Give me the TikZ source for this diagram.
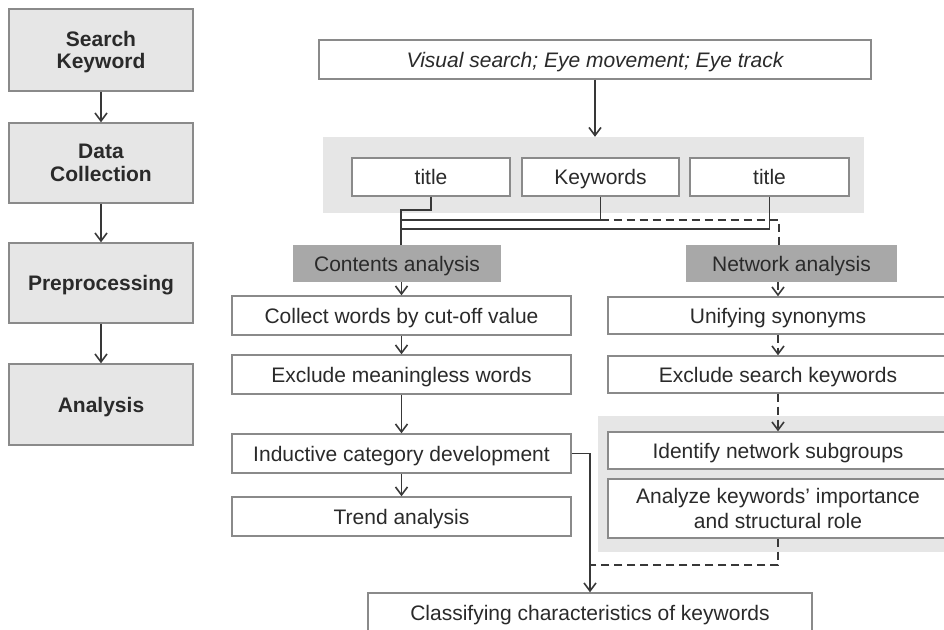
\documentclass[tikz,border=0pt]{standalone}
\usepackage{fontspec}
\setmainfont{Liberation Sans}
\usepackage{xcolor}
\usepackage{tikz}
\usetikzlibrary{arrows.meta,positioning,calc}
\definecolor{inkgray}{HTML}{2A2A2A}
\definecolor{linegray}{HTML}{383838}
\definecolor{bordgray}{HTML}{8A8A8A}
\definecolor{paleback}{HTML}{E6E6E6}
\definecolor{headgray}{HTML}{A8A8A8}

\begin{document}
\begin{tikzpicture}[x=1pt,y=-1pt,
 stage/.style={draw=bordgray,fill=paleback,line width=1.4pt,text=inkgray,align=center,font=\bfseries\fontsize{21}{22.5}\selectfont,minimum width=184pt,inner sep=0pt,text depth=0pt},
 box/.style={draw=bordgray,fill=white,line width=1.4pt,text=inkgray,align=center,font=\fontsize{21}{25}\selectfont,inner sep=0pt,text depth=0pt},
 head/.style={fill=headgray,text=inkgray,align=center,font=\fontsize{21}{25}\selectfont,inner sep=0pt,text depth=0pt,minimum height=37pt},
 panel/.style={fill=paleback,inner sep=0pt},
 link/.style={draw=linegray,line width=1.6pt},
 arr/.style={link,-{Straight Barb[length=8pt,width=12pt]}},
 dlink/.style={link,dash pattern=on 8pt off 5pt},
 darr/.style={dlink,-{Straight Barb[length=8pt,width=12pt]}}
]
\clip (0,0) rectangle (944,629);
\node[stage,minimum height=82pt] (sk) at (101,50) {Search\\Keyword};
\node[stage,minimum height=80pt] (dc) at (101,163) {Data\\Collection};
\node[stage,minimum height=80pt] (pp) at (101,283) {Preprocessing};
\node[stage,minimum height=81pt] (an) at (101,404.5) {Analysis};
\foreach \a/\b in {sk/dc,dc/pp,pp/an}
  \draw[arr] (\a) -- (\b);

\node[box,font=\itshape\fontsize{21}{25}\selectfont,minimum width=552pt,minimum height=39pt] (vs) at (595,59.5) {Visual search; Eye movement; Eye track};
\node[panel,minimum width=541pt,minimum height=76pt] (grp) at (593.5,175) {};
\node[box,minimum width=158pt,minimum height=38pt] (t1) at (431,177) {title};
\node[box,minimum width=157pt,minimum height=38pt] (kw) at (600.5,177) {Keywords};
\node[box,minimum width=159pt,minimum height=38pt] (t2) at (769.5,177) {title};
\draw[arr] (vs.south) -- (vs.south |- grp.north);

\node[head,minimum width=208pt] (ca) at (397,263.5) {Contents analysis};
\node[head,minimum width=211pt] (na) at (791.5,263.5) {Network analysis};

\coordinate (j1) at (401,210);
\coordinate (h1) at (401,220);
\coordinate (h2) at (401,229);
\coordinate (nd) at (779,220);
\draw[link] (t1.south) |- (j1) -- (j1 |- ca.north);
\draw[link] (kw.south) |- (h1);
\draw[link] (t2.south) |- (h2);
\draw[dlink] (kw.south |- h1) -- (nd) -- (nd |- na.north);

\node[box,minimum width=339pt,minimum height=39pt] (cw) at (401.5,315.5) {Collect words by cut-off value};
\node[box,minimum width=339pt,minimum height=39pt] (em) at (401.5,374.5) {Exclude meaningless words};
\node[box,minimum width=339pt,minimum height=39pt] (ic) at (401.5,453.5) {Inductive category development};
\node[box,minimum width=339pt,minimum height=39pt] (tr) at (401.5,516.5) {Trend analysis};
\draw[arr] (cw.north |- ca.south) -- (cw.north);
\foreach \a/\b in {cw/em,em/ic,ic/tr}
  \draw[arr] (\a) -- (\b);

\node[box,minimum width=340pt,minimum height=37pt] (us) at (778,315.5) {Unifying synonyms};
\node[box,minimum width=340pt,minimum height=37pt] (es) at (778,374.5) {Exclude search keywords};
\node[panel,minimum width=362pt,minimum height=136pt] (grp2) at (779,484) {};
\node[box,minimum width=340pt,minimum height=37pt] (ns) at (778,450.5) {Identify network subgroups};
\node[box,minimum width=340pt,minimum height=59pt] (ak) at (778,508.5) {Analyze keywords’ importance\\and structural role};
\draw[darr] (us.north |- na.south) -- (us.north);
\foreach \a/\b in {us/es,es/ns}
  \draw[darr] (\a) -- (\b);

\node[box,minimum width=444pt,minimum height=40pt] (cc) at (590,613) {Classifying characteristics of keywords};
\coordinate (m) at (590,565);
\draw[arr] (ic.east) -| (cc.north);
\draw[dlink] (ak.south) |- (m);
\end{tikzpicture}
\end{document}
